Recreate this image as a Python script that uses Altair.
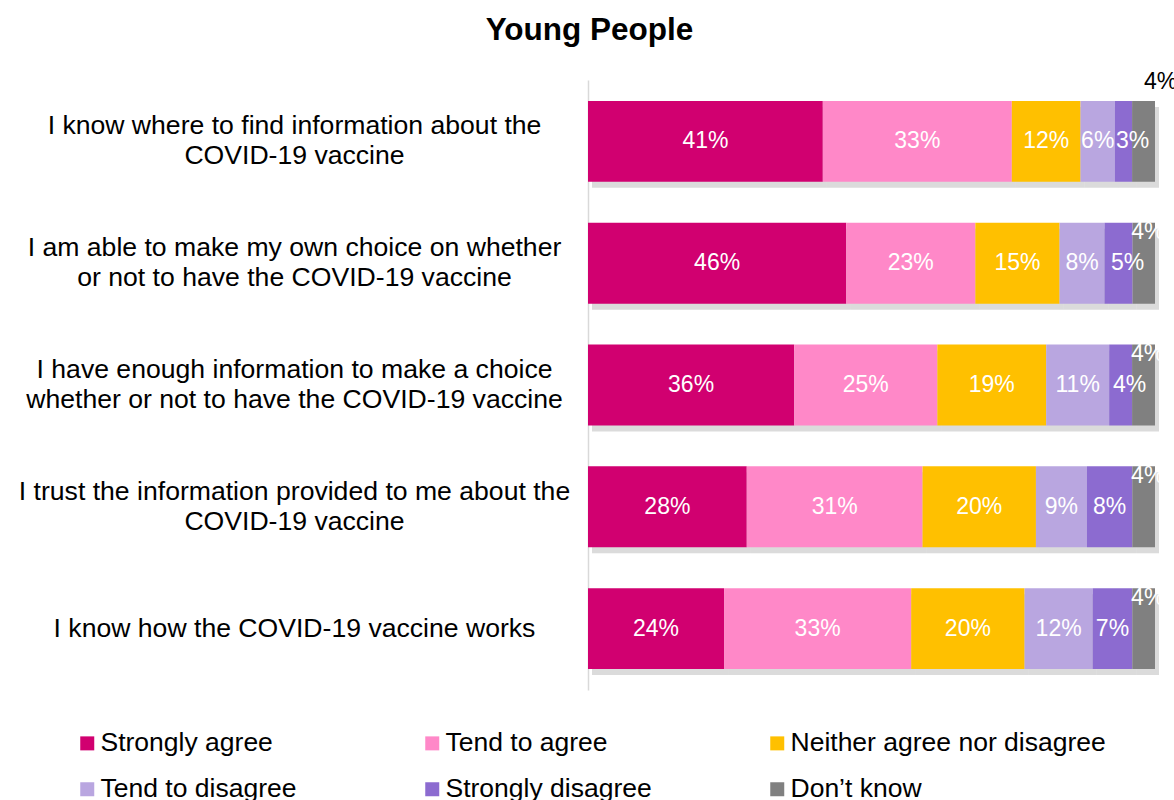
import altair as alt
import pandas as pd

statements = [
    "I know where to find information about the|COVID-19 vaccine",
    "I am able to make my own choice on whether|or not to have the COVID-19 vaccine",
    "I have enough information to make a choice|whether or not to have the COVID-19 vaccine",
    "I trust the information provided to me about the|COVID-19 vaccine",
    "I know how the COVID-19 vaccine works",
]
categories = [
    "Strongly agree",
    "Tend to agree",
    "Neither agree nor disagree",
    "Tend to disagree",
    "Strongly disagree",
    "Don\u2019t know",
]
colors = ["#D10070", "#FF88C8", "#FFC000", "#B9A6E0", "#8C6BD0", "#808080"]

strongly_agree = [41, 46, 36, 28, 24]
tend_to_agree = [33, 23, 25, 31, 33]
neither = [12, 15, 19, 20, 20]
tend_to_disagree = [6, 8, 11, 9, 12]
strongly_disagree = [3, 5, 4, 8, 7]
dont_know = [4, 4, 4, 4, 4]

series = [strongly_agree, tend_to_agree, neither, tend_to_disagree, strongly_disagree, dont_know]
rows = []
for ci, (cat, vals) in enumerate(zip(categories, series)):
    for si, (st, v) in enumerate(zip(statements, vals)):
        rows.append({"statement": st, "category": cat, "order": ci, "value": v})
df = pd.DataFrame(rows)

FONT = "Liberation Sans"
DK = categories[-1]

base = alt.Chart(df).transform_stack(
    stack="value",
    groupby=["statement"],
    as_=["x0", "x1"],
    offset="normalize",
    sort=[alt.SortField(field="order", order="ascending")],
).transform_calculate(
    w="datum.x1 - datum.x0",
    label="datum.value + '%'",
).transform_calculate(
    mid="(datum.x0 + datum.x1) / 2 + (datum.w < 0.06 ? 0.016 : 0)"
)

xs = alt.Scale(domain=[0, 1], nice=False, zero=False)
ys = alt.Scale(domain=statements, paddingInner=0.336, paddingOuter=0.172)

y_axis = alt.Axis(
    title=None,
    orient="left",
    labelExpr="split(datum.label, '|')",
    labelAlign="center",
    labelBaseline="middle",
    labelOffset={"condition": {"test": "indexof(datum.label, '|') >= 0", "value": -15}, "value": 0},
    labelPadding=294,
    labelFontSize=26.6,
    labelLineHeight=30,
    labelFont=FONT,
    labelColor="black",
    labelLimit=800,
    ticks=False,
    tickSize=0,
    domainColor="#d9d9d9",
    domainWidth=1.5,
    grid=False,
)

shadow = base.mark_bar(color="#7f7f7f", opacity=0.28).encode(
    x=alt.X("x0:Q", scale=alt.Scale(domain=[0, 1], nice=False, zero=False, range=[4, 571]), axis=None),
    x2="x1:Q",
    y=alt.Y(
        "statement:N",
        scale=alt.Scale(domain=statements, paddingInner=0.336, paddingOuter=0.172, range=[6, 616]),
        axis=None,
    ),
)

bars = base.mark_bar(stroke=None).encode(
    x=alt.X("x0:Q", scale=xs, axis=None),
    x2="x1:Q",
    y=alt.Y("statement:N", scale=ys, axis=y_axis),
    color=alt.Color(
        "category:N",
        scale=alt.Scale(domain=categories, range=colors),
        legend=alt.Legend(
            title=None,
            orient="none",
            legendX=-514,
            legendY=650,
            columns=3,
            direction="horizontal",
            symbolType="square",
            symbolSize=196,
            symbolStrokeWidth=0,
            labelFontSize=26.5,
            labelFont=FONT,
            labelColor="black",
            labelOffset=0,
            labelLimit=500,
            rowPadding=19,
            columnPadding=3,
            gridAlign="all",
            padding=0,
        ),
    ),
)

labels = base.transform_filter(f"datum.category != '{DK}'").mark_text(
    color="white", fontSize=23, font=FONT, baseline="middle", align="center"
).encode(
    x=alt.X("mid:Q", scale=xs, axis=None),
    y=alt.Y("statement:N", scale=ys, axis=None),
    text="label:N",
)

dk_first = base.transform_filter(
    f"datum.category == '{DK}' && datum.statement == '{statements[0]}'"
).mark_text(
    color="black", fontSize=23, font=FONT, baseline="middle", align="center", dx=8, dy=-59
).encode(
    x=alt.X("mid:Q", scale=xs, axis=None),
    y=alt.Y("statement:N", scale=ys, axis=None),
    text="label:N",
)

dk_rest = base.transform_filter(
    f"datum.category == '{DK}' && datum.statement != '{statements[0]}'"
).mark_text(
    color="white", fontSize=23, font=FONT, baseline="middle", align="center", dx=-5, dy=-31
).encode(
    x=alt.X("mid:Q", scale=xs, axis=None),
    y=alt.Y("statement:N", scale=ys, axis=None),
    text="label:N",
)

chart = alt.layer(shadow, bars, labels, dk_first, dk_rest).resolve_scale(
    x="independent", y="independent"
).properties(
    width=567,
    height=610,
    autosize=alt.AutoSizeParams(type="none"),
    padding={"left": 588, "top": 80, "right": 19, "bottom": 110},
    title=alt.TitleParams(
        text="Young People",
        font=FONT,
        fontSize=31.5,
        fontWeight="bold",
        color="black",
        anchor="middle",
        dx=-282,
        dy=41,
        baseline="alphabetic",
        offset=41,
    ),
).configure_view(stroke=None)

chart.save("out.html", embed_options={"renderer": "svg", "actions": False})
